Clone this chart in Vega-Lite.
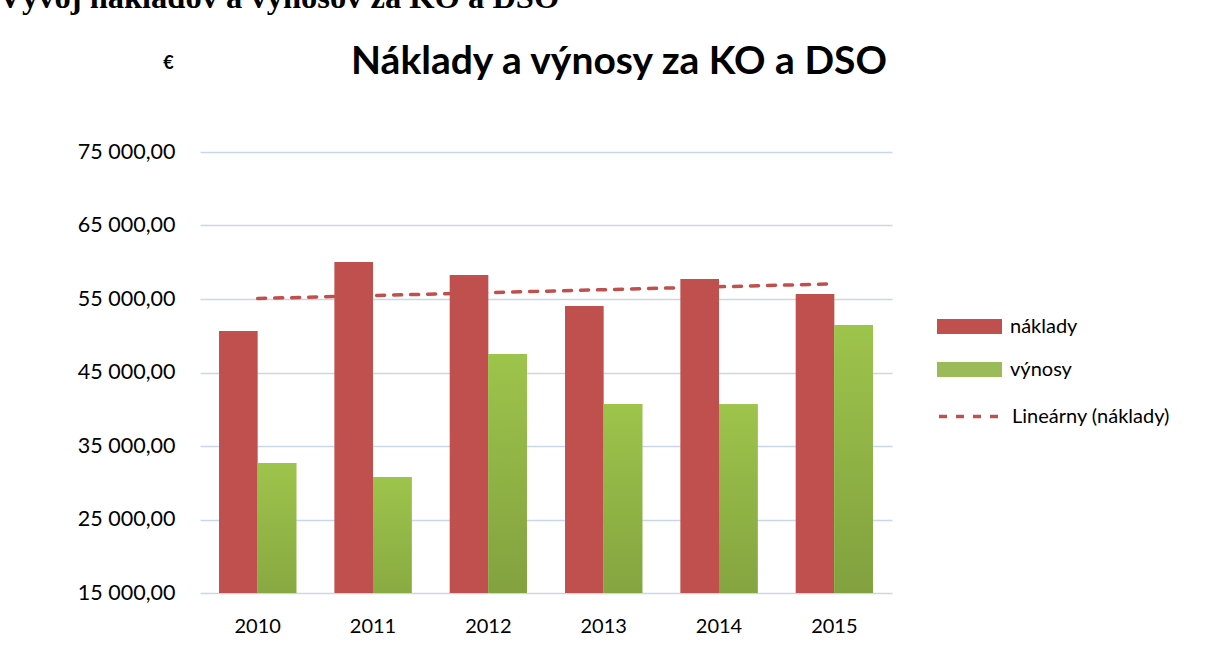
{
  "$schema": "https://vega.github.io/schema/vega-lite/v6.json",
  "width": 692,
  "height": 441,
  "autosize": {"type": "none"},
  "padding": {"left": 200, "top": 152, "right": 315, "bottom": 55},
  "background": "white",
  "title": {
    "text": "Náklady a výnosy za KO a DSO",
    "font": "Lato",
    "fontSize": 39,
    "fontWeight": "bold",
    "color": "#000000",
    "anchor": "middle",
    "frame": "group",
    "dx": 73,
    "offset": -101
  },
  "config": {
    "locale": {"number": {"decimal": ",", "thousands": " ", "grouping": [3], "currency": ["", " €"]}},
    "view": {"stroke": null},
    "font": "Lato"
  },
  "data": {
    "values": [
      {"year": 2010, "series": "náklady", "value": 50650},
      {"year": 2010, "series": "výnosy", "value": 32690},
      {"year": 2011, "series": "náklady", "value": 60030},
      {"year": 2011, "series": "výnosy", "value": 30780},
      {"year": 2012, "series": "náklady", "value": 58270},
      {"year": 2012, "series": "výnosy", "value": 47520},
      {"year": 2013, "series": "náklady", "value": 54050},
      {"year": 2013, "series": "výnosy", "value": 40710},
      {"year": 2014, "series": "náklady", "value": 57720},
      {"year": 2014, "series": "výnosy", "value": 40680},
      {"year": 2015, "series": "náklady", "value": 55680},
      {"year": 2015, "series": "výnosy", "value": 51460}
    ]
  },
  "encoding": {
    "x": {
      "field": "year",
      "type": "ordinal",
      "scale": {"paddingInner": 0.33, "paddingOuter": 0.165},
      "axis": {
        "title": "Vývoj nákladov a výnosov za KO a DSO",
        "titleFont": "Liberation Serif",
        "titleFontSize": 32.5,
        "titleFontWeight": "bold",
        "titleColor": "#000000",
        "titleAlign": "left",
        "titleBaseline": "alphabetic",
        "titleAnchor": "start",
        "titleX": -202,
        "titleY": -586,
        "labelAngle": 0,
        "labelFont": "Lato",
        "labelFontSize": 20,
        "labelColor": "#000000",
        "labelPadding": 23,
        "domain": false,
        "ticks": false,
        "grid": false
      }
    },
    "y": {
      "field": "value",
      "type": "quantitative",
      "scale": {"domain": [15000, 75000], "nice": false, "zero": false},
      "axis": {
        "values": [15000, 25000, 35000, 45000, 55000, 65000, 75000],
        "format": ",.2f",
        "title": "€",
        "titleAngle": 0,
        "titleFont": "Lato",
        "titleFontSize": 18,
        "titleFontWeight": "bold",
        "titleColor": "#000000",
        "titleAlign": "center",
        "titleBaseline": "middle",
        "titleX": -32,
        "titleY": -89,
        "labelFont": "Lato",
        "labelFontSize": 21.5,
        "labelColor": "#000000",
        "labelPadding": 25,
        "domain": false,
        "ticks": false,
        "grid": true,
        "gridColor": "#C9D7EC",
        "gridWidth": 1.5
      }
    }
  },
  "layer": [
    {
      "mark": {"type": "bar", "clip": true},
      "encoding": {
        "xOffset": {"field": "series", "type": "nominal", "scale": {"padding": 0}},
        "color": {
          "field": "series",
          "type": "nominal",
          "scale": {"domain": ["náklady", "výnosy"], "range": ["#C0504D", "#9BBB59"]},
          "legend": {
            "title": null,
            "orient": "none",
            "legendX": 757,
            "legendY": 162,
            "symbolType": "M-2.6,-0.6H2.6V0.6H-2.6Z",
            "symbolSize": 625,
            "symbolStrokeWidth": 0,
            "labelFont": "Lato",
            "labelFontSize": 20,
            "labelColor": "#000000",
            "labelOffset": 28,
            "rowPadding": 20
          }
        }
      }
    },
    {
      "transform": [{"filter": "datum.series === 'výnosy'"}],
      "mark": {
        "type": "bar",
        "clip": true,
        "fill": {
          "gradient": "linear",
          "x1": 0, "y1": 0, "x2": 0, "y2": 1,
          "stops": [
            {"offset": 0, "color": "#9DC44B"},
            {"offset": 1, "color": "#76923A"}
          ]
        }
      },
      "encoding": {
        "xOffset": {"field": "series", "type": "nominal"}
      }
    },
    {
      "transform": [
        {"filter": "datum.series === 'náklady'"},
        {"regression": "value", "on": "year"}
      ],
      "mark": {"type": "line", "color": "#C0504D", "strokeWidth": 3.5, "strokeCap": "round"},
      "encoding": {
        "strokeDash": {
          "datum": "Lineárny (náklady)",
          "scale": {"range": [[8, 9]]},
          "legend": {
            "title": null,
            "orient": "none",
            "legendX": 757,
            "legendY": 250,
            "symbolType": "M-2.6,0H2.6",
            "symbolSize": 625,
            "symbolStrokeColor": "#C0504D",
            "symbolStrokeWidth": 3.5,
            "labelFont": "Lato",
            "labelFontSize": 20,
            "labelColor": "#000000",
            "labelOffset": 26
          }
        }
      }
    }
  ]
}
